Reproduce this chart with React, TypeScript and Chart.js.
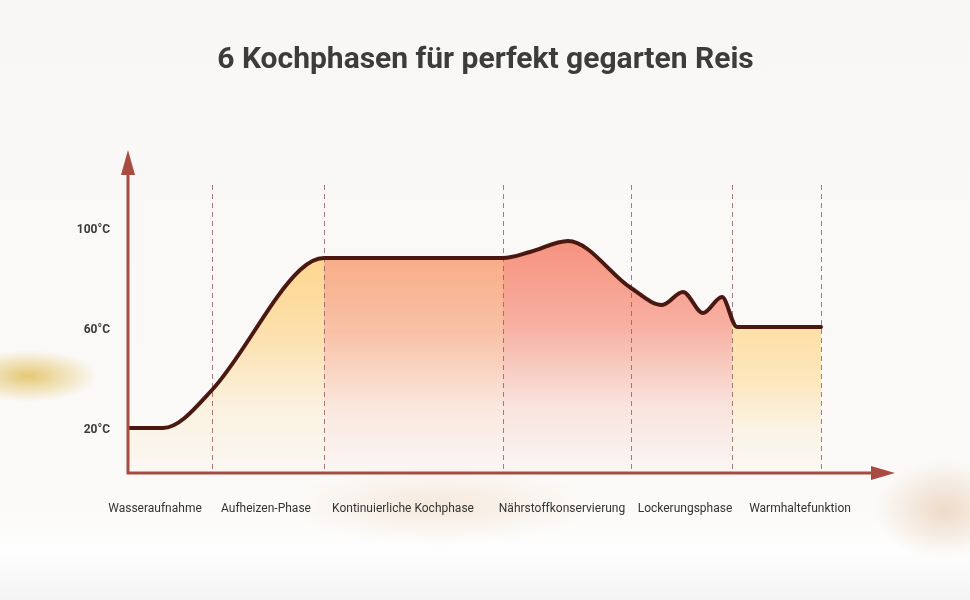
import React, { useEffect, useRef } from "react";
import { Chart, registerables } from "chart.js";

Chart.register(...registerables);

// ---- data ----
const titleText = "6 Kochphasen für perfekt gegarten Reis";
// time axis (arbitrary units), temperature in °C
const timeValues = [0, 35, 84, 172, 196, 375, 402, 440, 503, 534, 555, 575, 594, 609, 693];
const tempValues = [20, 20, 35.2, 83.2, 88, 88, 90.4, 94.8, 76, 69.2, 74.4, 66, 72.4, 60.4, 60.4];
const phaseLabels = [
  "Wasseraufnahme",
  "Aufheizen-Phase",
  "Kontinuierliche Kochphase",
  "Nährstoffkonservierung",
  "Lockerungsphase",
  "Warmhaltefunktion",
];
const phaseLabelPositions = [27, 138, 275, 434, 557, 672];
const phaseBoundaries = [84, 196, 375, 503, 604, 693];
const yTickValues = [20, 60, 100];
const xMin = 0;
const xMax = 767;
const yMin = 2;
const yMax = 131.2;
const boundaryTop = 117.2;
// colour bands of the fill (start, end in time units)
const bandStarts = [0, 196, 375, 604];
const bandEnds = [196, 375, 604, 693];
const bandColors = ["253,214,143", "248,172,136", "246,145,126", "253,223,165"];

const AXIS_COLOR = "#a84b40";
const LINE_COLOR = "#4a1810";

function makePattern(chart: any) {
  const area = chart.chartArea;
  if (!area) return "rgba(0,0,0,0)";
  const xs = chart.scales.x;
  const ys = chart.scales.y;
  const off = document.createElement("canvas");
  off.width = chart.width;
  off.height = chart.height;
  const c = off.getContext("2d")!;
  for (let i = 0; i < bandStarts.length; i++) {
    const x0 = xs.getPixelForValue(bandStarts[i]);
    const x1 = xs.getPixelForValue(bandEnds[i]);
    let maxT = -Infinity;
    for (let k = 0; k < timeValues.length; k++) {
      if (timeValues[k] >= bandStarts[i] && timeValues[k] <= bandEnds[i]) maxT = Math.max(maxT, tempValues[k]);
    }
    const top = ys.getPixelForValue(maxT);
    const bottom = area.bottom;
    const g = c.createLinearGradient(0, top, 0, bottom);
    const col = bandColors[i];
    g.addColorStop(0, `rgba(${col},1)`);
    g.addColorStop(0.35, `rgba(${col},0.72)`);
    g.addColorStop(0.7, `rgba(${col},0.22)`);
    g.addColorStop(1, `rgba(${col},0.03)`);
    c.fillStyle = g;
    c.fillRect(x0, top - 20, x1 - x0, bottom - top + 20);
  }
  return chart.ctx.createPattern(off, "no-repeat");
}

const decorPlugin = {
  id: "decor",
  beforeDatasetsDraw(chart: any) {
    const { ctx, chartArea } = chart;
    const xs = chart.scales.x;
    const ys = chart.scales.y;
    ctx.save();
    ctx.strokeStyle = "rgba(150,100,100,0.85)";
    ctx.lineWidth = 1;
    ctx.setLineDash([5, 4]);
    const top = ys.getPixelForValue(boundaryTop);
    for (const b of phaseBoundaries) {
      const x = Math.round(xs.getPixelForValue(b)) + 0.5;
      ctx.beginPath();
      ctx.moveTo(x, top);
      ctx.lineTo(x, chartArea.bottom);
      ctx.stroke();
    }
    ctx.restore();
  },
  afterDatasetsDraw(chart: any) {
    const { ctx, chartArea } = chart;
    const x0 = chartArea.left;
    const y0 = chartArea.bottom;
    ctx.save();
    ctx.strokeStyle = AXIS_COLOR;
    ctx.fillStyle = AXIS_COLOR;
    ctx.lineWidth = 3;
    ctx.beginPath();
    ctx.moveTo(x0, y0 + 1.5);
    ctx.lineTo(x0, chartArea.top + 20);
    ctx.moveTo(x0 - 1.5, y0);
    ctx.lineTo(chartArea.right - 20, y0);
    ctx.stroke();
    // arrow heads
    ctx.beginPath();
    ctx.moveTo(x0, chartArea.top);
    ctx.lineTo(x0 - 7, chartArea.top + 25);
    ctx.lineTo(x0 + 7, chartArea.top + 25);
    ctx.closePath();
    ctx.fill();
    ctx.beginPath();
    ctx.moveTo(chartArea.right, y0);
    ctx.lineTo(chartArea.right - 24, y0 - 7);
    ctx.lineTo(chartArea.right - 24, y0 + 7);
    ctx.closePath();
    ctx.fill();
    ctx.restore();
  },
};

export default function App() {
  const ref = useRef<HTMLCanvasElement>(null);
  useEffect(() => {
    if (!ref.current) return;
    const points = timeValues.map((t, i) => ({ x: t, y: tempValues[i] }));
    const chart = new Chart(ref.current, {
      type: "line",
      data: {
        datasets: [
          {
            data: points,
            borderColor: LINE_COLOR,
            borderWidth: 4,
            cubicInterpolationMode: "monotone",
            pointRadius: 0,
            fill: "start",
            backgroundColor: (ctx: any) => makePattern(ctx.chart),
            borderCapStyle: "round",
            borderJoinStyle: "round",
          },
        ],
      },
      options: {
        responsive: false,
        animation: false,
        devicePixelRatio: 1,
        layout: { padding: { left: 76, right: 75, top: 0, bottom: 0 } },
        plugins: {
          legend: { display: false },
          tooltip: { enabled: false },
          filler: { drawTime: "beforeDatasetsDraw" },
          title: {
            display: true,
            text: titleText,
            color: "#3c3c3c",
            font: { family: "Roboto", size: 30, weight: "bold", lineHeight: 1.2 },
            padding: { top: 42, bottom: 72 },
          },
        },
        scales: {
          x: {
            type: "linear",
            min: xMin,
            max: xMax,
            grid: { display: false, drawTicks: false, tickLength: 0 },
            border: { display: false },
            afterBuildTicks: (s: any) => {
              s.ticks = phaseLabelPositions.map((v) => ({ value: v }));
            },
            afterFit: (s: any) => {
              s.height = 127;
            },
            ticks: {
              autoSkip: false,
              maxRotation: 0,
              padding: 29,
              color: "#333333",
              font: { family: "Roboto", size: 12 },
              callback: (_v: any, i: number) => phaseLabels[i],
            },
          },
          y: {
            type: "linear",
            min: yMin,
            max: yMax,
            grid: { display: false, drawTicks: false, tickLength: 0 },
            border: { display: false },
            afterBuildTicks: (s: any) => {
              s.ticks = yTickValues.map((v) => ({ value: v }));
            },
            afterFit: (s: any) => {
              s.width = 52;
            },
            ticks: {
              padding: 18,
              color: "#3a3a3a",
              font: { family: "Roboto", size: 12, weight: "bold", lineHeight: 0.34 },
              callback: (v: any) => ["", `${v}°C`],
            },
          },
        },
      },
      plugins: [decorPlugin],
    } as any);
    return () => chart.destroy();
  }, []);

  return (
    <div
      style={{
        position: "absolute",
        left: 0,
        top: 0,
        width: 970,
        height: 600,
        overflow: "hidden",
        background: [
          "radial-gradient(ellipse 70px 26px at 28px 376px, rgba(226,192,95,0.85), rgba(226,192,95,0) 100%)",
          "radial-gradient(ellipse 150px 40px at 440px 505px, rgba(238,208,180,0.4), rgba(238,208,180,0) 100%)",
          "radial-gradient(ellipse 70px 50px at 945px 510px, rgba(228,192,160,0.55), rgba(228,192,160,0) 100%)",
          "linear-gradient(#f8f7f5 0%, #faf9f7 50%, #fbfaf8 85%, #fefefe 92%, #f4f4f4 100%)",
        ].join(","),
      }}
    >
      <canvas ref={ref} width={970} height={600} style={{ display: "block" }} />
    </div>
  );
}
